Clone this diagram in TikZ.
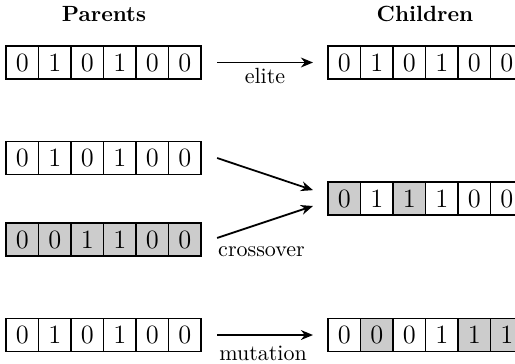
\documentclass[tikz,border=0pt]{standalone}
\usetikzlibrary{arrows.meta}
\tikzset{
  cell/.style={draw, line width=0.8pt, minimum width=14.8pt, minimum height=15pt,
               inner sep=0pt, outer sep=0pt, font=\large},
  on/.style={fill=black!20},
  off/.style={fill=white},
  arr/.style={line width=0.8pt, -{Stealth[length=5.5pt,width=4.5pt]}},
  title/.style={font=\bfseries, anchor=base},
  oplabel/.style={anchor=base}
}
% one chromosome: name, left edge, vertical centre, list of bit/style pairs
\newcommand\chromosome[4]{%
  \foreach \b/\s [count=\i] in {#4} {
    \node[cell,\s] (#1-\i) at ({#2+(\i-0.5)*32.5},#3) {\b};
  }%
}
\begin{document}
\begin{tikzpicture}[x=0.4545pt,y=-0.4545pt]
  \useasboundingbox (0,0) rectangle (515,363);

  \node[title] (tp) at (104,21) {Parents};
  \node[title] (tc) at (425,21) {Children};

  % elite
  \chromosome{pa}{6}{62.5}{0/off,1/off,0/off,1/off,0/off,0/off}
  \chromosome{ca}{328}{62.5}{0/off,1/off,0/off,1/off,0/off,0/off}
  \draw[arr] ([xshift=7.3pt]pa-6.east) -- ([xshift=-6.8pt]ca-1.west);
  \node[oplabel] (le) at (265,83.5) {elite};

  % crossover
  \chromosome{pb}{6}{158}{0/off,1/off,0/off,1/off,0/off,0/off}
  \chromosome{pc}{6}{239.5}{0/on,0/on,1/on,1/on,0/on,0/on}
  \chromosome{cb}{328}{198.5}{0/on,1/off,1/on,1/off,0/off,0/off}
  \draw[arr] ([xshift=7.3pt]pb-6.east) -- ([xshift=-6.8pt,yshift=3.8pt]cb-1.west);
  \draw[arr] ([xshift=7.3pt,yshift=0.7pt]pc-6.east) -- ([xshift=-6.8pt,yshift=-3.4pt]cb-1.west);
  \node[oplabel] (lc) at (261.5,256) {crossover};

  % mutation
  \chromosome{pd}{6}{335}{0/off,1/off,0/off,1/off,0/off,0/off}
  \chromosome{cd}{328}{335}{0/off,0/on,0/off,1/off,1/on,1/on}
  \draw[arr] ([xshift=7.3pt]pd-6.east) -- ([xshift=-6.8pt]cd-1.west);
  \node[oplabel] (lm) at (263,360.5) {mutation};
\end{tikzpicture}
\end{document}
